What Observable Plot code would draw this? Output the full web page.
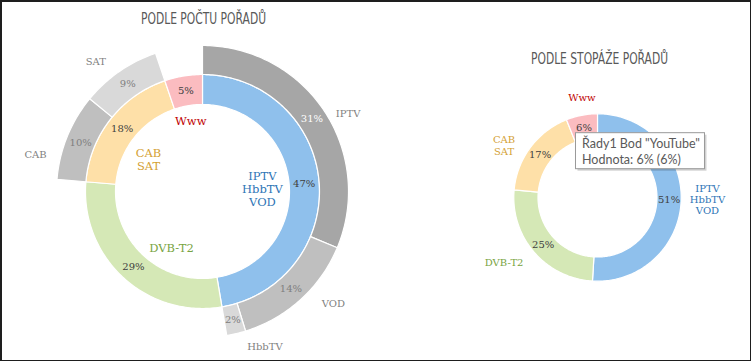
<!DOCTYPE html>
<html>
<head>
<meta charset="utf-8">
<script src="https://cdn.jsdelivr.net/npm/d3@7"></script>
<script src="https://cdn.jsdelivr.net/npm/@observablehq/plot@0.6"></script>
<style>
  html, body { margin: 0; padding: 0; background: #fff; }
</style>
</head>
<body>
<div id="chart"></div>
<script>
// ---------- DATA ----------
const titleLeft = "PODLE POČTU POŘADŮ";
const titleRight = "PODLE STOPÁŽE POŘADŮ";

const innerCategories = ["IPTV\nHbbTV\nVOD", "DVB-T2", "CAB\nSAT", "Www"];
const leftInnerValues = [47.2, 28.9, 18.4, 5.2];

const leftOuterLabels = ["IPTV", "VOD", "HbbTV", "CAB", "SAT"];
const leftOuterParent = [0, 0, 0, 2, 2];
const leftOuterValues = [31.2, 13.9, 2.1, 9.6, 8.8];

const rightValues = [50.6, 25.3, 17.4, 6.0];

const tooltipSeries = "Řady1";
const tooltipPoint = "YouTube";
const tooltipValue = "6%";

// ---------- STYLE / LAYOUT ----------
const W = 751, H = 361;
const L = {cx: 202, cy: 191, r0: 87, r1: 117, r2: 146};
const R = {cx: 597, cy: 197, r0: 59.5, r1: 83.7};
const innerColors = ["#8fc0ec", "#d5e8b6", "#fee0a8", "#fbbcc0"];
const outerColors = ["#a6a6a6", "#bfbfbf", "#d9d9d9", "#bfbfbf", "#d9d9d9"];
const catColors = ["#2e75b6", "#78a442", "#d4a135", "#c00000"];
// polar nudges for category labels: [angle offset (deg), radius]
const leftInnerCatPos = [[2, 60], [-13.6, 64], [-7, 63], [0, 72]];
const leftOuterCatPos = [[5.6, 165], [-7.3, 172], [-8.6, 167], [-9.6, 171], [-4.8, 168]];
const rightCatPos = [[-0.7, 110], [5.7, 114], [-7.6, 107], [2, 101]];
const serif = "'DejaVu Serif', 'Liberation Serif', serif";
const titleFont = "'DejaVu Sans', 'Liberation Sans', sans-serif";
const titleWidths = {left: 125, right: 137};

// ---------- GEOMETRY ----------
function polar(cx, cy, r, deg) {
  const a = deg * Math.PI / 180;
  return [cx + r * Math.sin(a), cy - r * Math.cos(a)];
}
const polys = [];
function addArc(id, a0, a1, g, ri, ro, color) {
  const n = Math.max(2, Math.ceil(a1 - a0));
  for (let i = 0; i <= n; i++) {
    const [x, y] = polar(g.cx, g.cy, ro, a0 + (a1 - a0) * i / n);
    polys.push({id, x, y, color});
  }
  for (let i = n; i >= 0; i--) {
    const [x, y] = polar(g.cx, g.cy, ri, a0 + (a1 - a0) * i / n);
    polys.push({id, x, y, color});
  }
}
const labels = [];

// left inner ring
const lk = 360 / d3.sum(leftInnerValues);
const leftStarts = [];
let acc = 0;
leftInnerValues.forEach((v, i) => {
  const a0 = acc * lk, a1 = (acc + v) * lk;
  leftStarts.push(a0);
  addArc("li" + i, a0, a1, L, L.r0, L.r1, innerColors[i]);
  const mid = (a0 + a1) / 2;
  const [px, py] = polar(L.cx, L.cy, (L.r0 + L.r1) / 2, mid);
  labels.push({x: px, y: py, text: Math.round(v) + "%", fill: "#404040", size: 10});
  const [da, rr] = leftInnerCatPos[i];
  const [cx, cy] = polar(L.cx, L.cy, rr, mid + da);
  labels.push({x: cx, y: cy, text: innerCategories[i], fill: catColors[i], size: 11.5});
  acc += v;
});
// left outer ring
const parentAcc = {};
leftOuterValues.forEach((v, i) => {
  const p = leftOuterParent[i];
  const off = parentAcc[p] || 0;
  const a0 = leftStarts[p] + off * lk, a1 = leftStarts[p] + (off + v) * lk;
  parentAcc[p] = off + v;
  addArc("lo" + i, a0, a1, L, L.r1, L.r2, outerColors[i]);
  const mid = (a0 + a1) / 2;
  const [px, py] = polar(L.cx, L.cy, (L.r1 + L.r2) / 2, mid);
  labels.push({x: px, y: py, text: Math.round(v) + "%", fill: i === 0 ? "#ffffff" : "#808080", size: 10});
  const [da, rr] = leftOuterCatPos[i];
  const [cx, cy] = polar(L.cx, L.cy, rr, mid + da);
  labels.push({x: cx, y: cy, text: leftOuterLabels[i], fill: "#7f7f7f", size: 10});
});
// right ring
const rk = 360 / d3.sum(rightValues);
acc = 0;
let tipAnchor = null;
rightValues.forEach((v, i) => {
  const a0 = acc * rk, a1 = (acc + v) * rk;
  addArc("r" + i, a0, a1, R, R.r0, R.r1, innerColors[i]);
  const mid = (a0 + a1) / 2;
  const [px, py] = polar(R.cx, R.cy, (R.r0 + R.r1) / 2, mid);
  labels.push({x: px, y: py, text: Math.round(v) + "%", fill: "#404040", size: 10});
  const [da, rr] = rightCatPos[i];
  const [cx, cy] = polar(R.cx, R.cy, rr, mid + da);
  labels.push({x: cx, y: cy, text: innerCategories[i], fill: catColors[i], size: 10});
  if (i === rightValues.length - 1) tipAnchor = [px, py];
  acc += v;
});

const tip = {x1: tipAnchor[0] - 8, x2: tipAnchor[0] + 121, y1: tipAnchor[1] + 6, y2: tipAnchor[1] + 42};
const tipText = `${tooltipSeries} Bod "${tooltipPoint}"\nHodnota: ${tooltipValue} (${tooltipValue})`;

const sizes = [...new Set(labels.map(d => d.size))];

const chart = Plot.plot({
  width: W, height: H,
  margin: 0,
  x: {domain: [0, W], range: [0, W], axis: null},
  y: {domain: [0, H], range: [0, H], axis: null},
  color: {type: "identity"},
  style: {background: "#fff", fontFamily: serif},
  marks: [
    Plot.line(polys, {x: "x", y: "y", z: "id", fill: "color", stroke: "#ffffff", strokeWidth: 1.2, curve: "linear-closed"}),
    ...sizes.map(s => Plot.text(labels.filter(d => d.size === s), {
      x: "x", y: "y", text: "text", fill: "fill", fontSize: s, lineHeight: 1.12, fontFamily: serif
    })),
    Plot.text([titleLeft], {x: L.cx + 1, y: 18, text: d => d, fontSize: 16, fill: "#595959", fontFamily: titleFont}),
    Plot.text([titleRight], {x: R.cx + 2, y: 58, text: d => d, fontSize: 16, fill: "#595959", fontFamily: titleFont}),
    Plot.rect([tip], {x1: d => d.x1 + 2, x2: d => d.x2 + 2, y1: d => d.y1 + 2, y2: d => d.y2 + 2, fill: "#000", fillOpacity: 0.18}),
    Plot.rect([tip], {x1: "x1", x2: "x2", y1: "y1", y2: "y2", fill: "#fff", stroke: "#9a9a9a", strokeWidth: 1}),
    Plot.text([tipText], {x: tip.x1 + 6, y: (tip.y1 + tip.y2) / 2, text: d => d, textAnchor: "start", fontSize: 12.5, lineHeight: 1.28, fill: "#595959", fontFamily: "Lato, 'Noto Sans', sans-serif"}),
    Plot.frame({stroke: "#1e1e1e", strokeWidth: 3})
  ]
});
// condense the titles to the reference width
d3.select(chart).selectAll("text").each(function() {
  const t = this.textContent;
  if (t === titleLeft || t === titleRight) {
    d3.select(this)
      .attr("textLength", t === titleLeft ? titleWidths.left : titleWidths.right)
      .attr("lengthAdjust", "spacingAndGlyphs");
  }
});
document.getElementById("chart").appendChild(chart);
</script>
</body>
</html>
